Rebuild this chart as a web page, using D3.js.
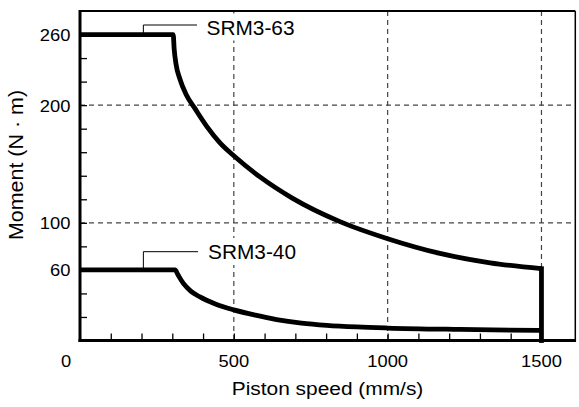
<!DOCTYPE html>
<html><head><meta charset="utf-8">
<script src="https://cdn.jsdelivr.net/npm/d3@7"></script>
<style>
body{margin:0;background:#fff}
svg{display:block}
text{font-family:"Liberation Sans",Arial,Helvetica,sans-serif;fill:#000}
</style>
</head><body>
<svg id="c" width="579" height="407"></svg>
<script>
// ---- data ----
const speed63  = [0, 303, 306, 312, 325, 345, 374, 412, 455, 500, 585, 690, 845, 1000, 1170, 1333, 1500];
const moment63 = [260, 260, 248, 235, 222, 209, 197, 182, 168, 157, 139, 121, 101, 86.5, 74, 66, 61];
const speed40  = [0, 309, 318, 336, 360, 390, 440, 500, 570, 639, 720, 802, 900, 1000, 1235, 1500];
const moment40 = [60, 60, 56, 48.5, 42, 37, 31, 26, 21.5, 17.8, 14.8, 12.9, 11.5, 10.6, 9.4, 8.5];
const dropSpeed  = [1500, 1500];
const dropMoment = [61, 0];
const seriesNames = ["SRM3-63", "SRM3-40"];
const yTickLabels = [60, 100, 200, 260];
const xTickLabels = [500, 1000, 1500];
const yMinorTicks = [20, 40, 60, 80, 100, 120, 140, 160, 180, 200, 220, 240, 260];
const xMinorTicks = [100, 200, 300, 400, 500, 600, 700, 800, 900, 1000, 1100, 1200, 1300, 1400, 1500];
const yGrid = [100, 200];
const xGrid = [500, 1000, 1500];
const xTitle = "Piston speed (mm/s)";
const yTitle = "Moment (N · m)";

// ---- layout ----
const svg = d3.select("#c");
const L = 80, R = 575.3, T = 11, B = 340.5;
const x = d3.scaleLinear().domain([0, 1610]).range([L, R]);
const y = d3.scaleLinear().domain([0, 280]).range([B, T]);
const SX = 1.08; // reference glyphs are slightly wider than Liberation Sans

// grid
const grid = svg.append("g").attr("stroke", "#444").attr("stroke-width", 1.2).attr("stroke-dasharray", "5,4");
grid.selectAll("line.gy").data(yGrid).join("line")
  .attr("x1", L).attr("x2", R).attr("y1", d => y(d)).attr("y2", d => y(d));
grid.selectAll("line.gx").data(xGrid).join("line")
  .attr("y1", T).attr("y2", B).attr("x1", d => x(d)).attr("x2", d => x(d));

// minor ticks via axes (inside)
const yAx = svg.append("g").attr("transform", `translate(${L},0)`)
  .call(d3.axisLeft(y).tickValues(yMinorTicks).tickSize(-7).tickFormat(""));
const xAx = svg.append("g").attr("transform", `translate(0,${B})`)
  .call(d3.axisBottom(x).tickValues(xMinorTicks).tickSize(-7).tickFormat(""));
[yAx, xAx].forEach(a => { a.select(".domain").remove(); a.selectAll("line").attr("stroke", "#000").attr("stroke-width", 1.3); });

// frame
svg.append("line").attr("x1", L).attr("x2", R).attr("y1", T).attr("y2", T).attr("stroke", "#000").attr("stroke-width", 2);
svg.append("line").attr("x1", R).attr("x2", R).attr("y1", T).attr("y2", B).attr("stroke", "#000").attr("stroke-width", 1.5);
svg.append("line").attr("x1", L).attr("x2", L).attr("y1", T - 1).attr("y2", B + 1.5).attr("stroke", "#000").attr("stroke-width", 3);
svg.append("line").attr("x1", L - 1.5).attr("x2", R + 0.75).attr("y1", B).attr("y2", B).attr("stroke", "#000").attr("stroke-width", 3);

// tick labels
svg.selectAll("text.yl").data(yTickLabels).join("text")
  .attr("transform", d => `translate(70.5,${y(d) + 6.5}) scale(${SX},1)`).attr("text-anchor", "end")
  .attr("font-size", 17).text(d => d);
svg.append("text").attr("transform", `translate(66,367) scale(${SX},1)`).attr("text-anchor", "middle").attr("font-size", 17).text(0);
svg.selectAll("text.xl").data(xTickLabels).join("text")
  .attr("transform", d => `translate(${x(d)},367) scale(${SX},1)`).attr("text-anchor", "middle")
  .attr("font-size", 17).text(d => d);

// axis titles
svg.append("text").attr("transform", `translate(327.5,395) scale(1.1,1)`).attr("text-anchor", "middle")
  .attr("font-size", 19).text(xTitle);
svg.append("text").attr("transform", "translate(22.5,165) rotate(-90) scale(1.1,1)").attr("text-anchor", "middle")
  .attr("font-size", 19.5).text(yTitle);

// curves
const line = d3.line().x(d => x(d[0])).y(d => y(d[1])).curve(d3.curveMonotoneX);
const lin = d3.line().x(d => x(d[0])).y(d => y(d[1]));
const s63 = speed63.map((v, i) => [v, moment63[i]]);
const s40 = speed40.map((v, i) => [v, moment40[i]]);
const drop = dropSpeed.map((v, i) => [v, dropMoment[i]]);
const cg = svg.append("g").attr("fill", "none").attr("stroke", "#000").attr("stroke-width", 4.8);
cg.append("path").attr("d", line(s63));
cg.append("path").attr("d", line(s40));
cg.append("path").attr("d", lin(drop)).attr("stroke-linecap", "square");

// labels with leaders
const labelSpecs = [
  {name: seriesNames[0], at: 206, val: 260, yLead: 25, xEnd: 197, tx: 206.5, base: 34.5},
  {name: seriesNames[1], at: 206, val: 60, yLead: 251.7, xEnd: 198, tx: 208, base: 259}
];
labelSpecs.forEach(s => {
  const t = svg.append("text").attr("x", s.tx).attr("y", s.base).attr("font-size", 21)
    .attr("textLength", 88).attr("lengthAdjust", "spacingAndGlyphs").text(s.name);
  const bb = t.node().getBBox();
  svg.insert("rect", () => t.node()).attr("x", bb.x - 3).attr("y", bb.y - 2)
    .attr("width", bb.width + 6).attr("height", bb.height + 4).attr("fill", "#fff");
  const px = x(s.at);
  svg.append("path").attr("d", `M${px},${y(s.val)}V${s.yLead}H${s.xEnd}`)
    .attr("fill", "none").attr("stroke", "#000").attr("stroke-width", 1);
});
</script>
</body></html>
